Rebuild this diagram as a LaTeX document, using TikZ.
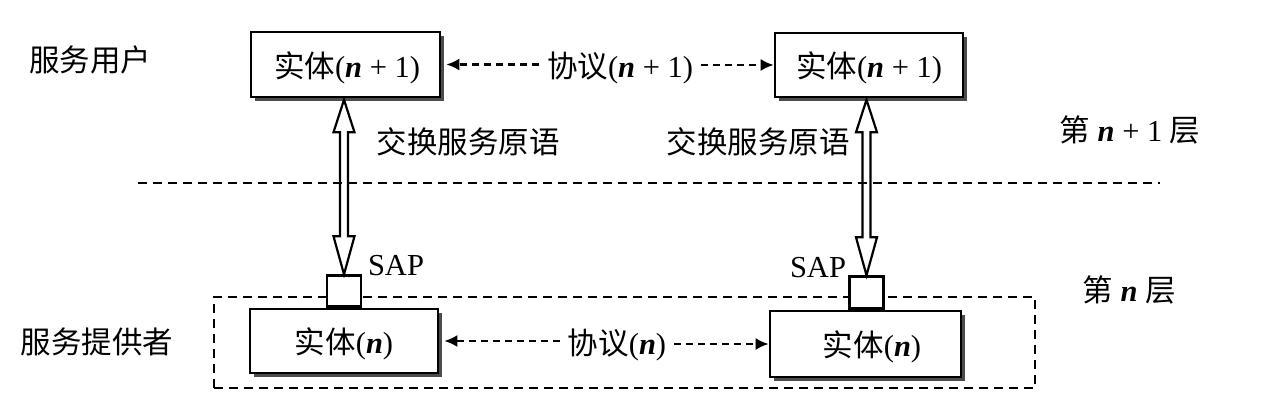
\documentclass[tikz,border=0pt]{standalone}
\usepackage{fontspec}
\setmainfont{Liberation Serif}
\newfontfamily\cjk{Noto Sans CJK SC}
\usetikzlibrary{arrows.meta,calc,shadows}
\newcommand{\zh}[1]{{\cjk #1}}
\newcommand{\nn}{\textbf{\textit{n}}}
\begin{document}
\begin{tikzpicture}[x=1pt,y=-1pt,
  font=\fontsize{30.5}{36}\selectfont,
  entity/.style={draw, line width=2.6pt, fill=white, inner sep=0pt,
    drop shadow={shadow xshift=4pt, shadow yshift=-4pt, fill=black!70, opacity=1}},
  sapbox/.style={draw, line width=2.4pt, fill=white, inner sep=0pt, minimum width=34pt, minimum height=31pt},
  lbl/.style={inner sep=8pt},
  proto/.style={line width=2.3pt, dash pattern=on 7pt off 5pt, -{Latex[length=13pt,width=12pt]}},
  hollow/.style={line width=2.2pt, line join=miter},
  layerline/.style={line width=2.2pt, dash pattern=on 9pt off 6pt},
]
\useasboundingbox (0,0) rectangle (1265,408);

% layer box of service provider
\node[draw, layerline, minimum width=821pt, minimum height=91pt, inner sep=0pt] (layer) at (624.5,342.5) {};

% dividing line
\coordinate (dl) at (138,183);
\coordinate (dr) at (1160,183);
\draw[layerline] (dl) -- (dr);

% entities
\node[entity, minimum width=189pt, minimum height=65pt] (tl) at (345.5,64.5) {};
\node at (347,68) {\zh{实体}(\nn\ + 1)};
\node[entity, minimum width=188pt, minimum height=64pt] (tr) at (869,65) {};
\node at (869,68) {\zh{实体}(\nn\ + 1)};
\node[entity, minimum width=188pt, minimum height=64pt] (bl) at (344,341) {};
\node at (344,344) {\zh{实体}(\nn)};
\node[entity, minimum width=191pt, minimum height=66pt] (br) at (865.5,344) {};
\node at (872,347) {\zh{实体}(\nn)};

% SAP squares
\node[sapbox, anchor=south] (sl) at (bl.north) {};
\node[sapbox, anchor=south, minimum height=32pt] (sr) at ([xshift=1pt]br.north) {};
\node (sapl) at (396,266) {SAP};
\node (sapr) at (818,268) {SAP};

% protocol labels and arrows
\node[lbl] (p1) at (620,68) {\zh{协议}(\nn\ + 1)};
\node[lbl] (p0) at (617,345) {\zh{协议}(\nn)};
\draw[proto] (p1.west |- tl.east) -- ([xshift=5pt]tl.east);
\draw[proto] (p1.east |- tr.west) -- (tr.west);
\draw[proto] (p0.west |- bl.east) -- ([xshift=5pt]bl.east);
\draw[proto] (p0.east |- br.west) -- (br.west);

% hollow double arrows (exchange of service primitives)
\draw[hollow] let \p1=(tl.south), \p2=(sl.north) in
  (\x2,\y1-1.5pt) -- (\x2+10.5pt,\y1-34pt) -- (\x2+4pt,\y1-34pt) -- (\x2+4pt,\y2+38pt)
  -- (\x2+10.5pt,\y2+38pt) -- (\x2,\y2) -- (\x2-10.5pt,\y2+38pt) -- (\x2-4pt,\y2+38pt)
  -- (\x2-4pt,\y1-34pt) -- (\x2-10.5pt,\y1-34pt) -- cycle;
\draw[hollow] let \p1=(tr.south), \p2=(sr.north) in
  (\x2,\y1-1.5pt) -- (\x2+10.5pt,\y1-34pt) -- (\x2+4pt,\y1-34pt) -- (\x2+4pt,\y2+38pt)
  -- (\x2+10.5pt,\y2+38pt) -- (\x2,\y2) -- (\x2-10.5pt,\y2+38pt) -- (\x2-4pt,\y2+38pt)
  -- (\x2-4pt,\y1-34pt) -- (\x2-10.5pt,\y1-34pt) -- cycle;
\node (xl) at (468,142) {\zh{交换服务原语}};
\node (xr) at (758,142) {\zh{交换服务原语}};

% side labels
\node (user) at (90,60) {\zh{服务用户}};
\node (prov) at (97,342) {\zh{服务提供者}};
\node (ln1) at (1130,130) {\zh{第} \nn\ + 1 \zh{层}};
\node (ln0) at (1129,290) {\zh{第} \nn\ \zh{层}};
\end{tikzpicture}
\end{document}
